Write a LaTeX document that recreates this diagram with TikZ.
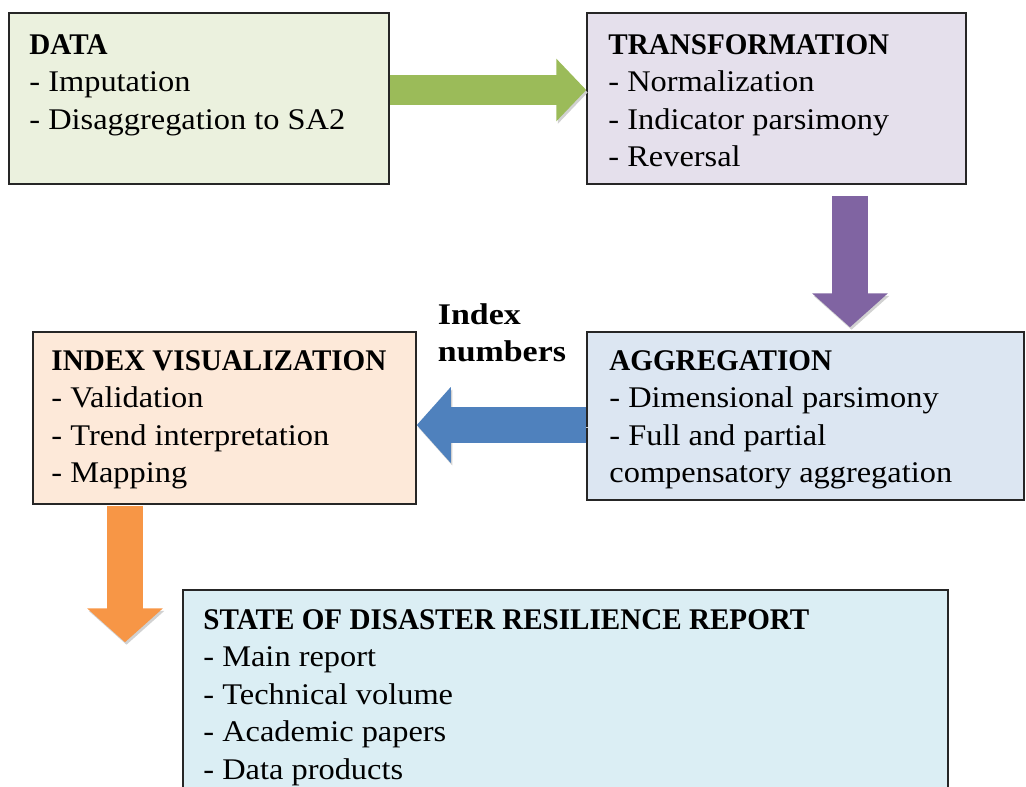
\documentclass[tikz,border=0pt]{standalone}
\usepackage{fontspec}
\setmainfont[FakeStretch=1.08,BoldFeatures={FakeStretch=0.97}]{Liberation Serif}
\newfontfamily\idxfont[FakeStretch=1.13]{Liberation Serif}
\usetikzlibrary{arrows.meta}
\usetikzlibrary{calc}
\definecolor{datafill}{HTML}{EBF1DE}
\definecolor{transfill}{HTML}{E5E0EC}
\definecolor{aggfill}{HTML}{DCE6F2}
\definecolor{visfill}{HTML}{FDE9D9}
\definecolor{statefill}{HTML}{DBEEF4}
\definecolor{arrgreen}{HTML}{9BBB59}
\definecolor{arrpurple}{HTML}{8064A2}
\definecolor{arrblue}{HTML}{4F81BD}
\definecolor{arrorange}{HTML}{F79646}

\begin{document}
\begin{tikzpicture}[x=1pt,y=-1pt,
    box/.style={draw=black!85, line width=1.5pt, inner sep=0pt},
    txt/.style={anchor=north west, inner sep=0pt, align=left, font=\fontsize{30}{37.5}\selectfont},
    flow/.style={line width=36pt, -{Triangle[length=34pt,width=74pt]},
        preaction={draw=black!18, transform canvas={shift={(1.5pt,-2.5pt)}}}},
    smallflow/.style={flow, line width=30pt, -{Triangle[length=30pt,width=61pt]}}]
\useasboundingbox (0,0) rectangle (1026,787);
% boxes
\node[box, fill=datafill, minimum width=380pt, minimum height=171pt] (data) at (199,98.5) {};
\node[box, fill=transfill, minimum width=379pt, minimum height=171pt] (trans) at (776.5,98.5) {};
\node[box, fill=aggfill, minimum width=437pt, minimum height=168pt] (agg) at (805.5,416) {};
\node[box, fill=visfill, minimum width=383pt, minimum height=172pt] (vis) at (224.5,418) {};
\node[box, fill=statefill, minimum width=765pt, minimum height=230pt] (state) at (565.5,705) {};
% texts
\node[txt] (datatxt) at ([xshift=21pt,yshift=-22pt]data.north west)
    {\textbf{DATA}\\- Imputation\\- Disaggregation to SA2};
\node[txt] (transtxt) at ([xshift=22pt,yshift=-22pt]trans.north west)
    {\textbf{TRANSFORMATION}\\- Normalization\\- Indicator parsimony\\- Reversal};
\node[txt] (aggtxt) at ([xshift=23pt,yshift=-19pt]agg.north west)
    {\textbf{AGGREGATION}\\- Dimensional parsimony\\- Full and partial\\compensatory aggregation};
\node[txt] (vistxt) at ([xshift=19pt,yshift=-19pt]vis.north west)
    {\textbf{INDEX VISUALIZATION}\\- Validation\\- Trend interpretation\\- Mapping};
\node[txt] (statetxt) at ([xshift=21pt,yshift=-20pt]state.north west)
    {\textbf{STATE OF DISASTER RESILIENCE REPORT}\\- Main report\\- Technical volume\\- Academic papers\\- Data products};
\node[txt, font=\idxfont\bfseries\fontsize{30}{37.5}\selectfont] (indexlbl) at ([xshift=21pt,yshift=28pt]vis.north east)
    {Index\\numbers};
% arrows
\coordinate (pstart) at ($(trans.south)+(73.5,11)$);
\coordinate (ostart) at ($(vis.south)+(-99.5,1)$);
\coordinate (oend) at ($(ostart |- state.north)+(0,53)$);
\draw[smallflow, arrgreen] ([yshift=8.5pt]data.east) -- ([yshift=8.5pt]trans.west);
\draw[flow, arrpurple] (pstart) -- ($(pstart |- agg.north)+(0,-4)$);
\draw[flow, arrblue] ([yshift=-9pt]agg.west) -- ([yshift=-7pt]vis.east);
\draw[flow, arrorange] (ostart) -- (oend);
\end{tikzpicture}
\end{document}
